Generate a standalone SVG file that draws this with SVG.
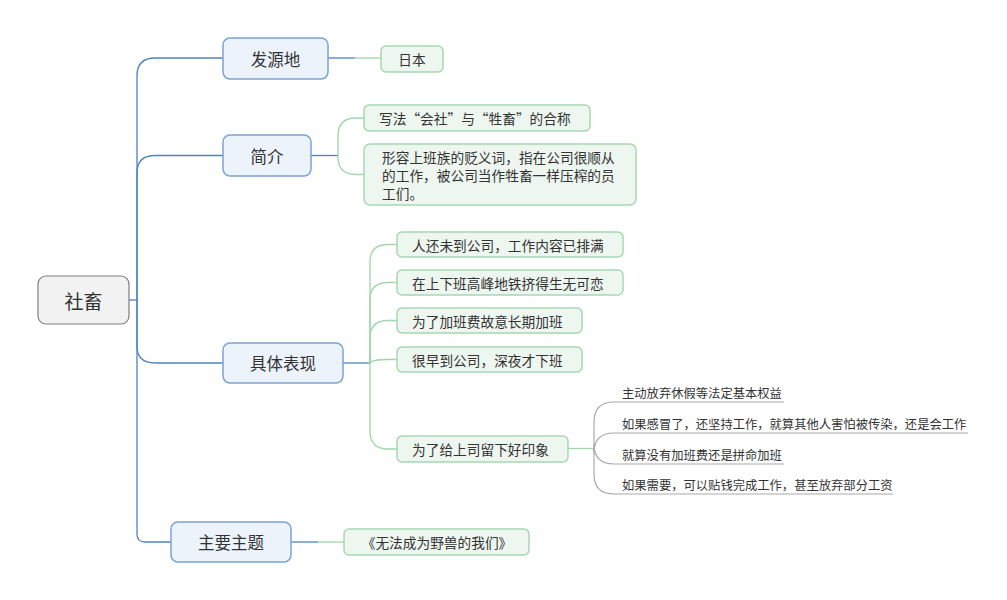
<svg xmlns="http://www.w3.org/2000/svg" width="1007" height="600" viewBox="0 0 1007 600">
<style>
text{font-family:"Noto Sans CJK SC","Noto Sans",sans-serif;fill:#333;dominant-baseline:central}
.root rect{fill:#f2f2f2;stroke:#7f7f7f;stroke-width:1.2}
.main rect{fill:#edf3fb;stroke:#7aa3d6;stroke-width:1.5}
.leaf rect{fill:#eef6f0;stroke:#a6d8b1;stroke-width:1.5}
.main text{font-size:16.5px;text-anchor:middle}
.leaf text{font-size:13.7px}
.sub text{font-size:12.3px}
.blue{fill:none;stroke:#4f82c4;stroke-width:1.3}
.green{fill:none;stroke:#9fd6ab;stroke-width:1.3}
.gray{fill:none;stroke:#a9a9a9;stroke-width:1.2}
</style>
<rect width="1007" height="600" fill="#fff"/>
<g id="connectors">
<path class="blue" d="M129 300H137"/>
<path class="blue" d="M137 300V76Q137 58 155 58H223"/>
<path class="blue" d="M137 300V173Q137 155.5 155 155.5H223"/>
<path class="blue" d="M137 300V346Q137 363 155 363H223"/>
<path class="blue" d="M137 300V534Q137 542 145 542H171"/>
<path class="blue" d="M328 58H355"/>
<path class="green" d="M355 58H381"/>
<path class="blue" d="M311 155.5H338"/>
<path class="green" d="M338 155.5V136Q338 118 356 118H364"/>
<path class="green" d="M338 155.5V157Q338 174.5 356 174.5H364"/>
<path class="blue" d="M343 363H370"/>
<path class="green" d="M370 363V262Q370 244.5 388 244.5H397"/>
<path class="green" d="M370 363V300Q370 282.5 388 282.5H397"/>
<path class="green" d="M370 363V338Q370 320.5 388 320.5H397"/>
<path class="green" d="M370 363Q372 359.5 388 359.5H397"/>
<path class="green" d="M370 363V431Q370 449 388 449H397"/>
<path class="blue" d="M291 542H318"/>
<path class="green" d="M318 542H344"/>
<path class="green" d="M568 448.5H594"/>
<path class="gray" d="M594 448.5V422Q594 402 614 402H784"/>
<path class="gray" d="M594 448.5V453Q594 433 614 433H968"/>
<path class="gray" d="M594 448.5V444Q594 464 614 464H784"/>
<path class="gray" d="M594 448.5V474Q594 494 614 494H893"/>
</g>
<g id="n-root" class="root"><rect x="38" y="276" width="91" height="48" rx="8"/><text x="83.5" y="300" font-size="19" text-anchor="middle">社畜</text></g>
<g id="n-origin" class="main"><rect x="223" y="38" width="105" height="41" rx="7"/><text x="275.5" y="58.5">发源地</text></g>
<g id="n-intro" class="main"><rect x="223" y="135" width="88" height="41" rx="7"/><text x="267" y="155.5">简介</text></g>
<g id="n-show" class="main"><rect x="223" y="343" width="120" height="40" rx="7"/><text x="283" y="363">具体表现</text></g>
<g id="n-theme" class="main"><rect x="171" y="522" width="120" height="40" rx="7"/><text x="231" y="542">主要主题</text></g>
<g id="n-japan" class="leaf"><rect x="381" y="46" width="62" height="26" rx="5"/><text x="412" y="59" text-anchor="middle">日本</text></g>
<g id="n-write" class="leaf"><rect x="364" y="105" width="226" height="26" rx="5"/><text x="379" y="118">写法“会社”与“牲畜”的合称</text></g>
<g id="n-desc" class="leaf"><rect x="364" y="144" width="272" height="61" rx="6"/><text x="382" y="157">形容上班族的贬义词，指在公司很顺从</text><text x="382" y="175">的工作，被公司当作牲畜一样压榨的员</text><text x="382" y="193">工们。</text></g>
<g id="n-s1" class="leaf"><rect x="397" y="232" width="226" height="25" rx="5"/><text x="412" y="244.5">人还未到公司，工作内容已排满</text></g>
<g id="n-s2" class="leaf"><rect x="397" y="270" width="226" height="25" rx="5"/><text x="412" y="282.5">在上下班高峰地铁挤得生无可恋</text></g>
<g id="n-s3" class="leaf"><rect x="397" y="308" width="185" height="25" rx="5"/><text x="412" y="320.5">为了加班费故意长期加班</text></g>
<g id="n-s4" class="leaf"><rect x="397" y="347" width="185" height="25" rx="5"/><text x="412" y="359.5">很早到公司，深夜才下班</text></g>
<g id="n-s5" class="leaf"><rect x="397" y="436" width="171" height="26" rx="5"/><text x="412" y="449">为了给上司留下好印象</text></g>
<g id="n-book" class="leaf"><rect x="344" y="529" width="185" height="26" rx="5"/><text x="437" y="542" text-anchor="middle">《无法成为野兽的我们》</text></g>
<g id="n-t1" class="sub"><text x="622" y="393">主动放弃休假等法定基本权益</text></g>
<g id="n-t2" class="sub"><text x="622" y="424">如果感冒了，还坚持工作，就算其他人害怕被传染，还是会工作</text></g>
<g id="n-t3" class="sub"><text x="622" y="455">就算没有加班费还是拼命加班</text></g>
<g id="n-t4" class="sub"><text x="622" y="485">如果需要，可以贴钱完成工作，甚至放弃部分工资</text></g>
</svg>
